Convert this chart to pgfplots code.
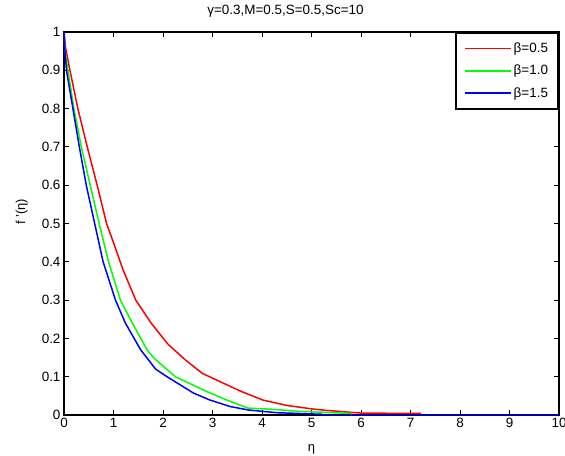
\documentclass[border=0pt]{standalone}
\usepackage{fontspec}
\setmainfont{Liberation Sans}
\usepackage{pgfplots}
\pgfplotsset{compat=1.18}
\begin{document}
\begin{tikzpicture}
\begin{axis}[
  scale only axis,
  width=495bp, height=383bp,
  xmin=0, xmax=10, ymin=0, ymax=1,
  xtick={0,1,...,10},
  ytick={0,0.1,...,1.0},
  yticklabels={0,0.1,0.2,0.3,0.4,0.5,0.6,0.7,0.8,0.9,1},
  tick align=inside,
  major tick length=5bp,
  tick style={black, line width=1pt},
  axis line style={line width=2pt},
  ticklabel style={font=\fontsize{13.5}{15}\selectfont},
  /pgf/number format/assume math mode=true,
  title={γ=0.3,M=0.5,S=0.5,Sc=10},
  title style={font=\fontsize{13.5}{15}\selectfont, at={(axis description cs:0.4475,1.039)}, anchor=center},
  xlabel={η},
  xlabel style={font=\fontsize{13}{14}\selectfont, at={(axis description cs:0.5,-0.09)}, anchor=center},
  ylabel={f '(η)},
  ylabel style={font=\fontsize{13}{14}\selectfont, at={(axis description cs:-0.0855,0.53)}, anchor=center},
  legend style={at={(rel axis cs:1,1)}, anchor=north east, draw=black, line width=2pt,
    font=\fontsize{13.5}{15}\selectfont, fill=white, inner xsep=8bp, inner ysep=8bp,
    row sep=7bp, cells={anchor=west}},
  legend image code/.code={\draw[#1, line width=1.5pt] (0bp,0bp) -- (46bp,0bp);},
  every axis plot/.append style={line width=1.5pt},
]
\coordinate (sw) at (rel axis cs:0,0);
\coordinate (ne) at (rel axis cs:1,1);
\addplot[red] coordinates {
(0,1.00) (0.03,0.96) (0.12,0.90) (0.28,0.80) (0.47,0.70) (0.67,0.60) (0.86,0.50)
(1.0,0.45) (1.19,0.38) (1.45,0.30) (1.76,0.24) (2.1,0.185) (2.45,0.144) (2.79,0.109)
(3.22,0.083) (3.59,0.061) (4.02,0.039) (4.5,0.025) (5.0,0.016) (5.3,0.012)
(6.0,0.005) (7.2,0.004) (7.2,0)
};
\addlegendentry{β=0.5}
\addplot[green] coordinates {
(0,1.00) (0.02,0.95) (0.08,0.90) (0.2,0.80) (0.35,0.70) (0.53,0.60) (0.71,0.50)
(0.9,0.40) (1.14,0.30) (1.38,0.24) (1.68,0.17) (1.82,0.148) (2.25,0.10)
(2.82,0.065) (3.29,0.039) (3.72,0.018) (4.2,0.015) (4.7,0.010) (5.8,0.004) (5.8,0)
};
\addlegendentry{β=1.0}
\addplot[blue] coordinates {
(0,1.00) (0.02,0.95) (0.05,0.90) (0.18,0.80) (0.31,0.70) (0.45,0.60) (0.62,0.50)
(0.79,0.40) (1.04,0.30) (1.24,0.24) (1.55,0.17) (1.85,0.12) (2.08,0.10)
(2.62,0.057) (2.95,0.039) (3.36,0.022) (3.73,0.013) (4.3,0.006) (5.2,0.002) (5.2,0) (10,0)
};
\addlegendentry{β=1.5}
\end{axis}
\pgfresetboundingbox
\path[use as bounding box] ([shift={(-64bp,-41bp)}]sw) rectangle ([shift={(6bp,32bp)}]ne);
\end{tikzpicture}
\end{document}
